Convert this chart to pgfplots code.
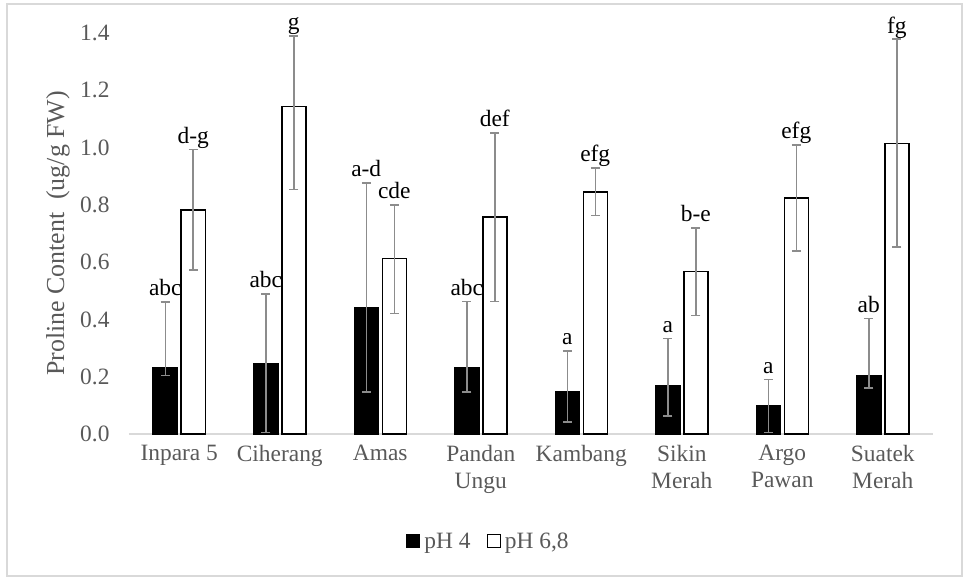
\documentclass[border=0pt]{standalone}
\usepackage{pgfplots}
\usepackage{pgfplotstable}
\pgfplotsset{compat=1.18}
\usepackage{fontspec}
\setmainfont{Liberation Serif}
\definecolor{txtgray}{HTML}{595959}
\definecolor{axgray}{HTML}{D9D9D9}
\definecolor{errgray}{HTML}{8C8C8C}
\definecolor{framegray}{HTML}{D9D9D9}

\pgfplotstableread{
x y4 ep4 em4 y68 ep68 em68 lab4 lab68
0 0.233 0.228 0.029 0.782 0.211 0.209 abc d-g
1 0.247 0.242 0.242 1.143 0.247 0.289 abc g
2 0.442 0.435 0.296 0.612 0.188 0.191 a-d cde
3 0.233 0.229 0.087 0.757 0.294 0.295 abc def
4 0.147 0.143 0.105 0.845 0.084 0.083 a efg
5 0.170 0.164 0.107 0.567 0.153 0.154 a b-e
6 0.098 0.092 0.093 0.824 0.185 0.185 a efg
7 0.204 0.199 0.043 1.015 0.364 0.362 ab fg
}\datatable

\begin{document}
\begin{tikzpicture}
\begin{axis}[
  scale only axis,
  width=804bp, height=401bp,
  xmin=-0.5, xmax=7.5,
  ymin=0, ymax=1.4,
  clip=false,
  axis x line*=bottom,
  axis y line*=left,
  x axis line style={draw=axgray, line width=1.5bp},
  y axis line style={draw=none},
  xtick={0,...,7},
  xticklabels={Inpara 5, Ciherang, Amas, Pandan\\Ungu, Kambang, Sikin\\Merah, Argo\\Pawan, Suatek\\Merah},
  ytick={0,0.2,...,1.4},
  major tick length=0pt,
  /pgf/number format/.cd, fixed, fixed zerofill, precision=1, assume math mode=true,
  /pgfplots/.cd,
  tick label style={font=\fontsize{23.5}{27}\selectfont, text=txtgray},
  xticklabel style={align=center, yshift=-8bp},
  yticklabel style={xshift=-16bp},
  ylabel={Proline Content\ \ (ug/g FW)},
  every axis y label/.style={at={(rel axis cs:0,0.5)}, rotate=90, anchor=center, yshift=71bp,
    font=\fontsize{26}{30}\selectfont, text=txtgray},
  legend style={at={(0.447,-0.267)}, anchor=center, draw=none, fill=none,
    legend columns=2, font=\fontsize{23.5}{27}\selectfont, text=txtgray,
    /tikz/every even column/.append style={column sep=14bp}},
  legend image code/.code={\draw[#1, line width=1.2bp] (0bp,-6.5bp) rectangle (13bp,6.5bp); \path (15bp,0bp);},
]
\addplot[ybar, bar width=24bp, bar shift=0pt, fill=black, draw=black, line width=1.5bp,
  error bars/.cd, y dir=both, y explicit,
  error bar style={draw=errgray, line width=1.5bp},
  error mark options={rotate=90, mark size=4.5bp, draw=errgray, line width=1.5bp}]
  table[x expr=\thisrow{x}-0.1393, y=y4, y error plus=ep4, y error minus=em4]{\datatable};
\addlegendentry{pH 4}
\addplot[ybar, bar width=24bp, bar shift=0pt, fill=white, draw=black, line width=1.5bp,
  error bars/.cd, y dir=both, y explicit,
  error bar style={draw=errgray, line width=1.5bp},
  error mark options={rotate=90, mark size=4.5bp, draw=errgray, line width=1.5bp}]
  table[x expr=\thisrow{x}+0.1393, y=y68, y error plus=ep68, y error minus=em68]{\datatable};
\addlegendentry{pH 6,8}
\addplot[draw=none, mark=none, forget plot, nodes near coords, point meta=explicit symbolic,
  nodes near coords style={anchor=base, yshift=6bp, text=black, font=\fontsize{23.5}{27}\selectfont, inner sep=0pt}]
  table[x expr=\thisrow{x}-0.1393, y expr=\thisrow{y4}+\thisrow{ep4}, meta=lab4]{\datatable};
\addplot[draw=none, mark=none, forget plot, nodes near coords, point meta=explicit symbolic,
  nodes near coords style={anchor=base, yshift=6bp, text=black, font=\fontsize{23.5}{27}\selectfont, inner sep=0pt}]
  table[x expr=\thisrow{x}+0.1393, y expr=\thisrow{y68}+\thisrow{ep68}, meta=lab68]{\datatable};
\draw[framegray, line width=1.5bp] ([xshift=-122bp,yshift=-142bp]rel axis cs:0,0) rectangle ([xshift=29bp,yshift=29bp]rel axis cs:1,1);
\path ([xshift=-129bp,yshift=-144bp]rel axis cs:0,0) rectangle ([xshift=31bp,yshift=33bp]rel axis cs:1,1);
\end{axis}
\end{tikzpicture}
\end{document}
